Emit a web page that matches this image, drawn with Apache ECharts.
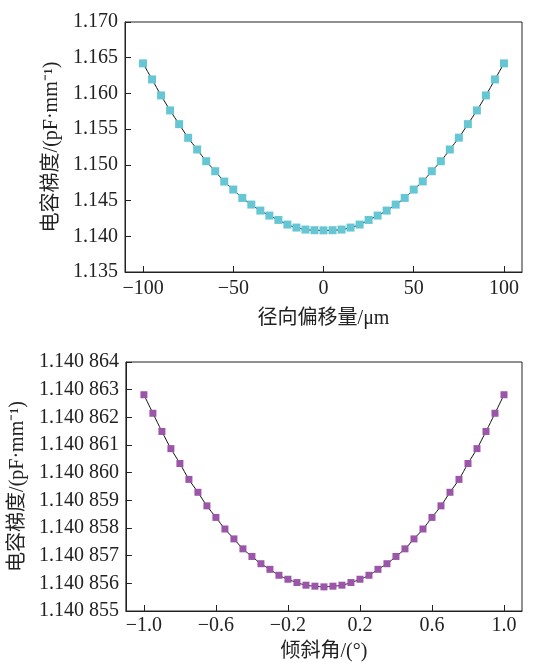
<!DOCTYPE html>
<html><head><meta charset="utf-8">
<script src="https://cdn.jsdelivr.net/npm/echarts@6/dist/echarts.min.js"></script>
<style>html,body{margin:0;padding:0;background:#fff}#c{width:547px;height:663px}</style>
</head><body><div id="c"></div>
<script>
const radialOffset = [-100,-95,-90,-85,-80,-75,-70,-65,-60,-55,-50,-45,-40,-35,-30,-25,-20,-15,-10,-5,0,5,10,15,20,25,30,35,40,45,50,55,60,65,70,75,80,85,90,95,100];
const gradRadial = [1.16421,1.16196,1.15972,1.15762,1.15570,1.15379,1.15215,1.15051,1.14911,1.14766,1.14654,1.14537,1.14444,1.14360,1.14290,1.14229,1.14164,1.14122,1.14094,1.14085,1.14083,1.14085,1.14094,1.14122,1.14164,1.14229,1.14290,1.14360,1.14444,1.14537,1.14654,1.14768,1.14911,1.15051,1.15215,1.15381,1.15570,1.15762,1.15972,1.16196,1.16421];
const tiltAngle = [-1.0,-0.95,-0.9,-0.85,-0.8,-0.75,-0.7,-0.65,-0.6,-0.55,-0.5,-0.45,-0.4,-0.35,-0.3,-0.25,-0.2,-0.15,-0.1,-0.05,0,0.05,0.1,0.15,0.2,0.25,0.3,0.35,0.4,0.45,0.5,0.55,0.6,0.65,0.7,0.75,0.8,0.85,0.9,0.95,1.0];
const gradTilt = [1.140862817,1.140862147,1.140861490,1.140860869,1.140860331,1.140859757,1.140859291,1.140858801,1.140858383,1.140857964,1.140857606,1.140857247,1.140856972,1.140856709,1.140856506,1.140856291,1.140856148,1.140856028,1.140855933,1.140855897,1.140855873,1.140855897,1.140855933,1.140856028,1.140856148,1.140856291,1.140856506,1.140856709,1.140856972,1.140857247,1.140857606,1.140857964,1.140858383,1.140858801,1.140859291,1.140859757,1.140860331,1.140860869,1.140861490,1.140862147,1.140862817];
const xTicksTop = [-100,-50,0,50,100];
const xTicksBottom = [-1.0,-0.6,-0.2,0.2,0.6,1.0];
const yTitle = '电容梯度/(pF·mm⁻¹)';
const xTitleTop = '径向偏移量/μm';
const xTitleBottom = '倾斜角/(°)';

const FONT = '"Liberation Serif","Noto Sans CJK SC",serif';
const axisColor = '#222';
const txt = {color:'#222', fontFamily:FONT, fontSize:20};
function xAxis(idx, min, max, ticks, name, fmt, gap, margin){
  return {type:'value', gridIndex:idx, min:min, max:max, name:name, nameLocation:'middle', nameGap:gap,
    nameTextStyle:Object.assign({}, txt),
    axisLine:{show:true, onZero:false, lineStyle:{color:axisColor, width:1}},
    axisTick:{show:true, inside:true, length:6, customValues:ticks, lineStyle:{color:axisColor}},
    axisLabel:Object.assign({customValues:ticks, margin:margin, formatter:fmt}, txt),
    splitLine:{show:false}};
}
function yAxis(idx, min, max, interval, fmt, gap){
  return {type:'value', gridIndex:idx, min:min, max:max, interval:interval, name:yTitle, nameLocation:'middle', nameGap:gap, nameRotate:90,
    nameTextStyle:Object.assign({}, txt),
    axisLine:{show:true, onZero:false, lineStyle:{color:axisColor, width:1}},
    axisTick:{show:true, inside:true, length:6, lineStyle:{color:axisColor}},
    axisLabel:Object.assign({margin:7, formatter:fmt}, txt),
    splitLine:{show:false}};
}
const minus = s => s.replace('-', '\u2212');
const chart = echarts.init(document.getElementById('c'));
chart.setOption({
  animation:false,
  backgroundColor:'#fff',
  grid:[
    {left:125, top:22, width:397, height:250, show:true, borderColor:axisColor, borderWidth:1},
    {left:125, top:362, width:397, height:251, show:true, borderColor:axisColor, borderWidth:1}
  ],
  xAxis:[
    xAxis(0, -110, 110, xTicksTop, xTitleTop, v => minus(String(v)), 37, 7),
    xAxis(1, -1.1, 1.1, xTicksBottom, xTitleBottom, v => minus(v.toFixed(1)), 31, 5)
  ],
  yAxis:[
    yAxis(0, 1.135, 1.170, 0.005, v => v.toFixed(3), 57),
    yAxis(1, 1.140855, 1.140864, 0.000001, v => { const s = v.toFixed(6); return s.slice(0,5) + ' ' + s.slice(5); }, 94)
  ],
  series:[
    {type:'line', xAxisIndex:0, yAxisIndex:0, data:radialOffset.map((x,i)=>[x,gradRadial[i]]), smooth:0.4,
      symbol:'rect', symbolSize:8, showAllSymbol:true,
      lineStyle:{color:'#111', width:1}, itemStyle:{color:'#66c6d3'}, z:3},
    {type:'line', xAxisIndex:1, yAxisIndex:1, data:tiltAngle.map((x,i)=>[x,gradTilt[i]]), smooth:0.4,
      symbol:'rect', symbolSize:7, showAllSymbol:true,
      lineStyle:{color:'#111', width:1}, itemStyle:{color:'#9b56a9'}, z:3}
  ]
});
</script></body></html>
